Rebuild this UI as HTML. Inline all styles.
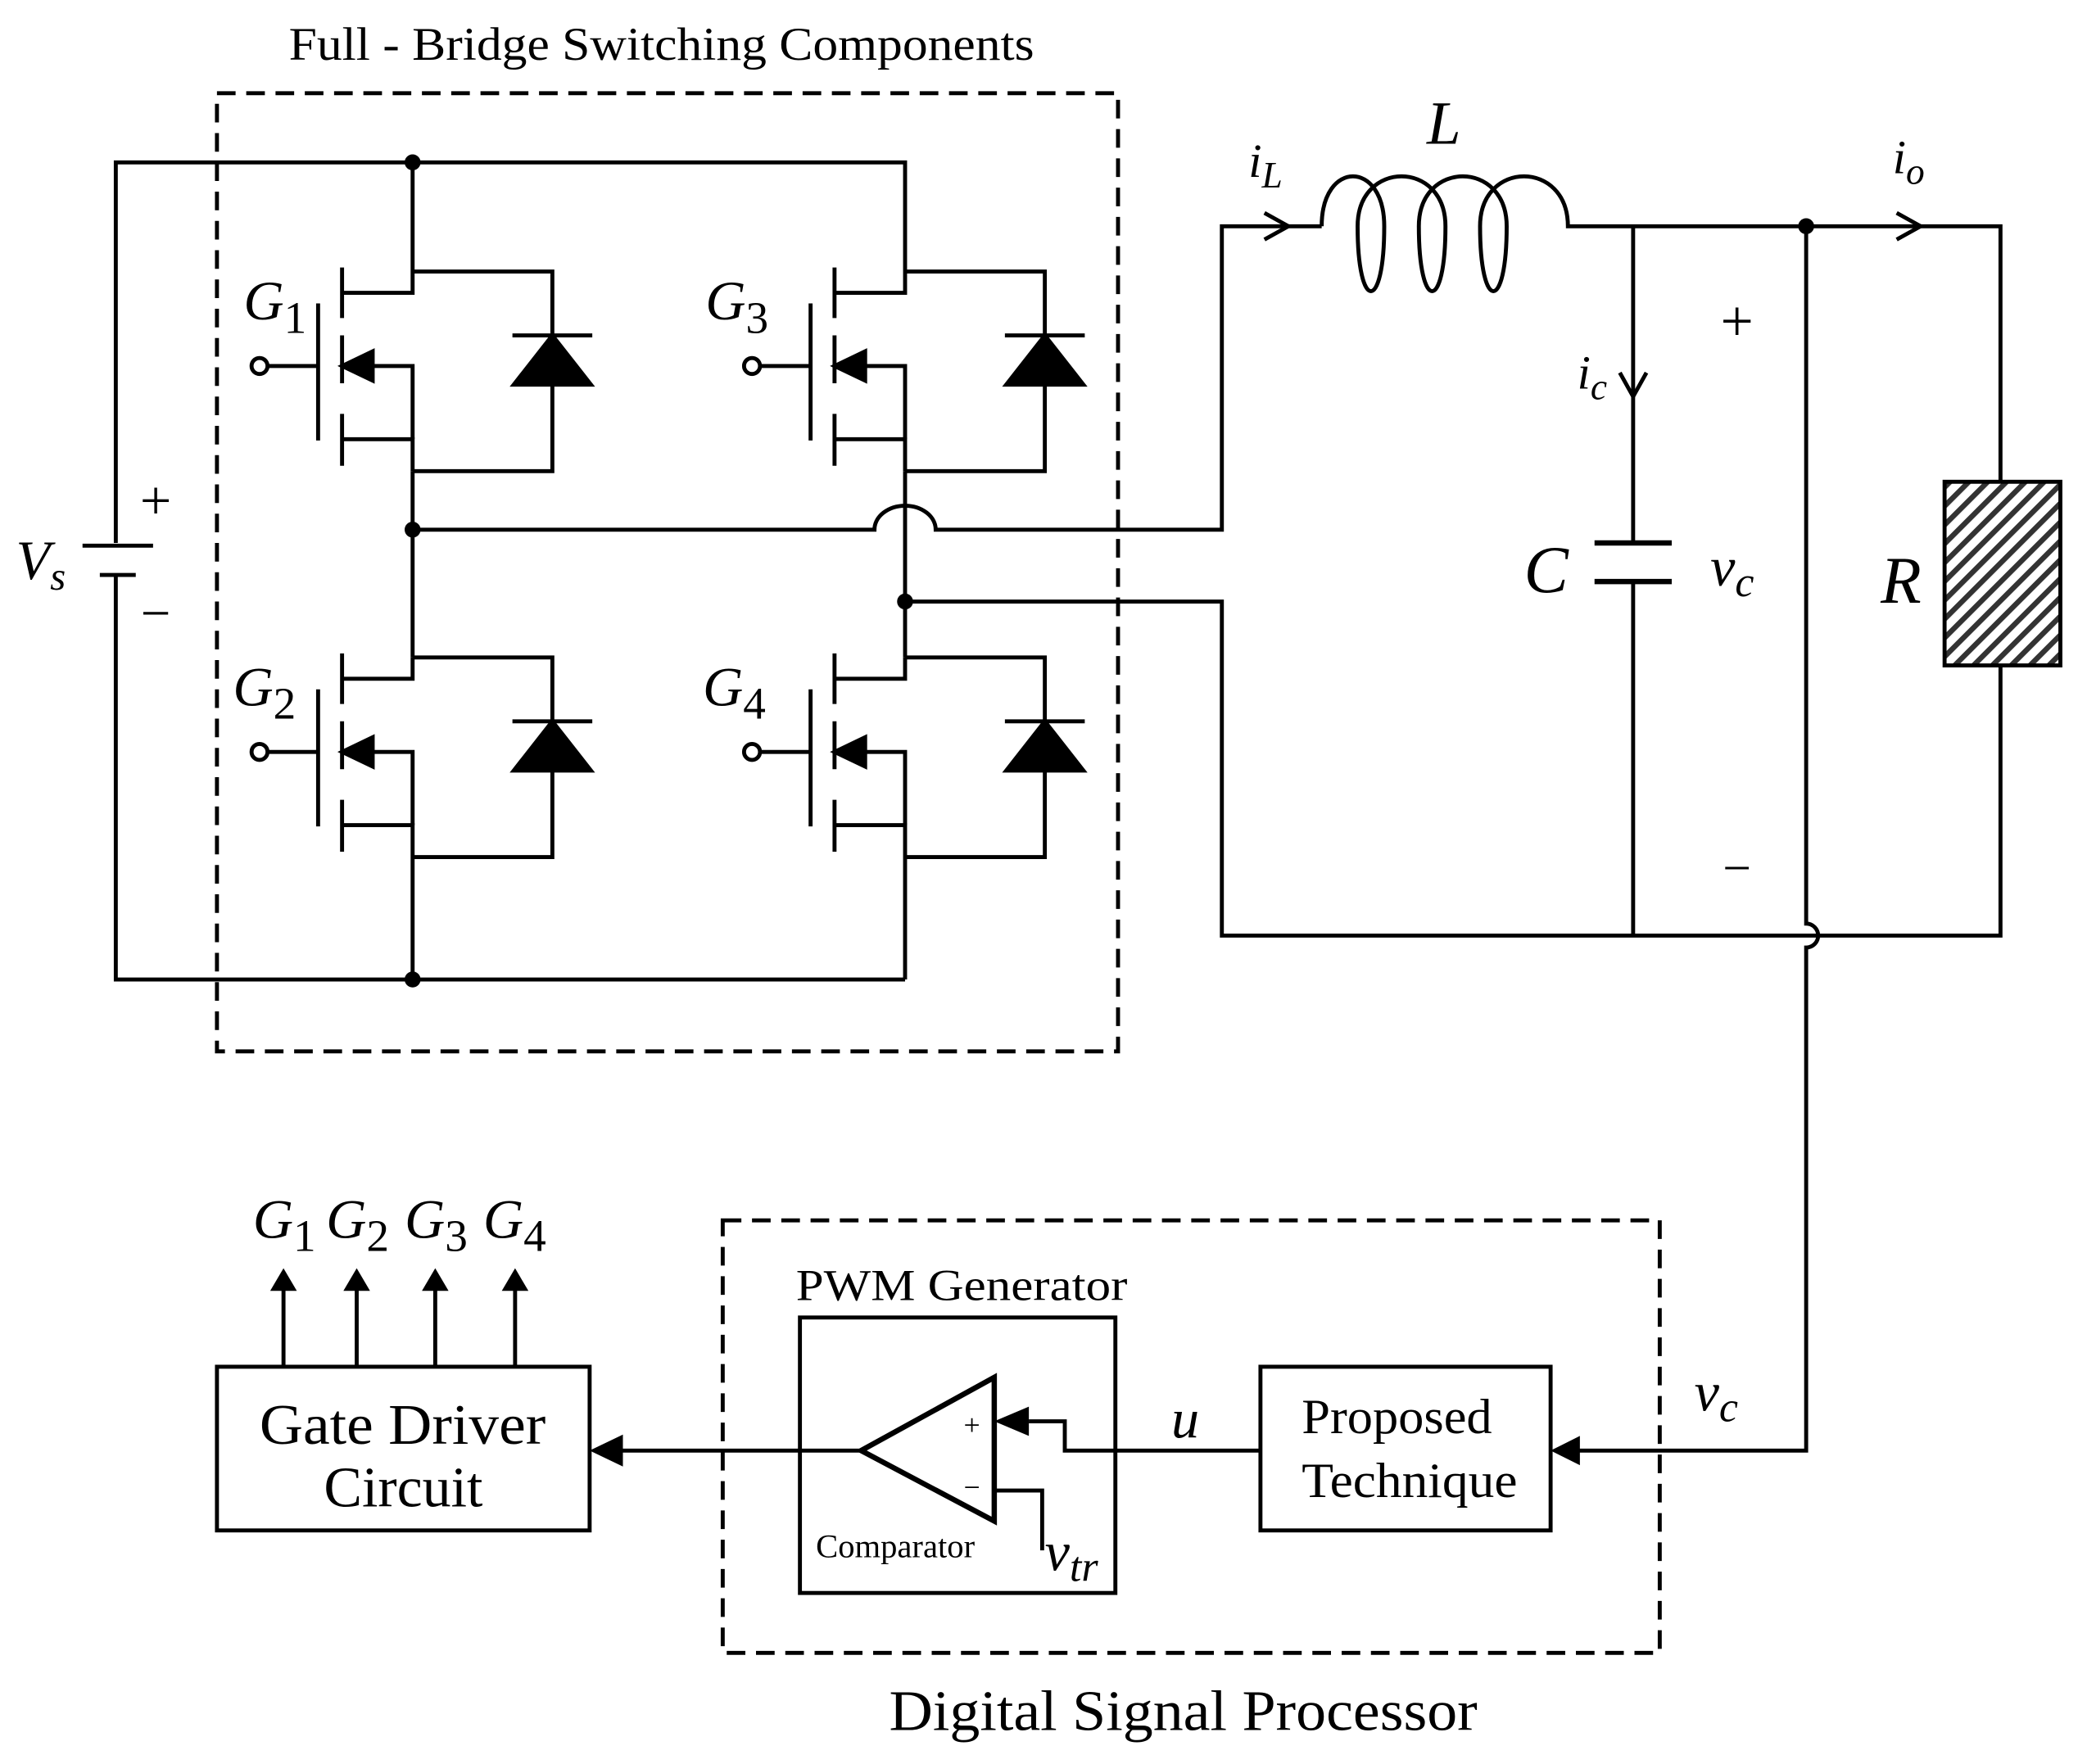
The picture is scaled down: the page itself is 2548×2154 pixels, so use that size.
<!DOCTYPE html>
<html><head><meta charset="utf-8"><style>html,body{margin:0;padding:0;background:#fff}svg{display:block}text{font-family:"Liberation Serif",serif;fill:#000}</style></head><body>
<svg width="2548" height="2154" viewBox="0 0 1568 1325.5" xmlns="http://www.w3.org/2000/svg">
<defs>
<pattern id="h" patternUnits="userSpaceOnUse" width="10" height="10" patternTransform="rotate(45)"><rect width="10" height="10" fill="#fff"/><rect width="4" height="10" fill="#333"/></pattern>
<g id="m" stroke="#000" stroke-width="3" fill="none">
<circle cx="-115" cy="0" r="6" fill="#fff"/>
<line x1="-109" y1="0" x2="-71" y2="0"/>
<line x1="-71" y1="-47" x2="-71" y2="56"/>
<line x1="-53" y1="-74" x2="-53" y2="-36"/>
<line x1="-53" y1="-23" x2="-53" y2="13"/>
<line x1="-53" y1="36" x2="-53" y2="75"/>
<polyline points="-53,-55 0,-55 0,-71"/>
<polyline points="-53,55 0,55 0,79"/>
<polyline points="-30,0 0,0 0,55"/>
<polygon points="-53,0 -30,-11 -30,11" fill="#000"/>
<polyline points="0,-71 105,-71 105,79 0,79"/>
<line x1="75" y1="-23" x2="135" y2="-23"/>
<polygon points="105,-23 76,14 134,14" fill="#000"/>
</g>
</defs>
<g stroke="#000" stroke-width="3" fill="none">
<rect x="163" y="70" width="677" height="720" stroke-dasharray="14,8"/>
<rect x="543" y="917" width="704" height="325" stroke-dasharray="14,8"/>
<polyline points="87,408 87,122 680,122 680,204"/>
<polyline points="87,432 87,736 680,736"/>
<line x1="62" y1="410" x2="115" y2="410"/>
<line x1="75" y1="432" x2="102" y2="432"/>
<line x1="310" y1="122" x2="310" y2="204"/>
<line x1="310" y1="354" x2="310" y2="494"/>
<line x1="310" y1="644" x2="310" y2="736"/>
<line x1="680" y1="354" x2="680" y2="494"/>
<line x1="680" y1="644" x2="680" y2="736"/>
<path d="M310,398 H657 A23,18 0 0 1 703,398 H918 V170 H993"/>
<path d="M993,170 C993,120 1040,120 1040,170 C1040,235 1020,235 1020,170 C1020,120 1086,120 1086,170 C1086,235 1066,235 1066,170 C1066,120 1132,120 1132,170 C1132,235 1112,235 1112,170 C1112,120 1178,120 1178,170 H1503 V362"/>
<polyline points="680,452 918,452 918,703 1503,703 1503,500"/>
<polyline points="1227,170 1227,408"/>
<polyline points="1227,437 1227,703"/>
<line x1="1198" y1="408" x2="1256" y2="408" stroke-width="4"/>
<line x1="1198" y1="437" x2="1256" y2="437" stroke-width="4"/>
<rect x="1461" y="362" width="87" height="138" fill="url(#h)"/>
<path d="M1357,170 V694 A9,9 0 0 1 1357,712 V1090 H1180"/>
<polyline points="950,160 968,170 950,180"/>
<polyline points="1425,160 1443,170 1425,180"/>
<polyline points="1217,280 1227,298 1237,280"/>
<rect x="947" y="1027" width="218" height="123"/>
<rect x="601" y="990" width="237" height="207"/>
<rect x="163" y="1027" width="280" height="123"/>
<polygon points="647,1090 747,1035 747,1143" stroke-width="4"/>
<line x1="465" y1="1090" x2="647" y2="1090"/>
<polyline points="773,1068 800,1068 800,1090 947,1090"/>
<polyline points="747,1120 783,1120 783,1165"/>
<line x1="213" y1="1027" x2="213" y2="968"/>
<line x1="268" y1="1027" x2="268" y2="968"/>
<line x1="327" y1="1027" x2="327" y2="968"/>
<line x1="387" y1="1027" x2="387" y2="968"/>
</g>
<g fill="#000">
<circle cx="310" cy="122" r="6"/><circle cx="310" cy="398" r="6"/><circle cx="310" cy="736" r="6"/><circle cx="680" cy="452" r="6"/><circle cx="1357" cy="170" r="6"/>
<polygon points="1165,1090 1187,1079 1187,1101"/>
<polygon points="443,1090 468,1078 468,1102"/>
<polygon points="747,1068 773,1057 773,1079"/>
<polygon points="213,953 203,970 223,970"/><polygon points="268,953 258,970 278,970"/><polygon points="327,953 317,970 337,970"/><polygon points="387,953 377,970 397,970"/>
</g>
<use href="#m" x="310" y="275"/><use href="#m" x="680" y="275"/><use href="#m" x="310" y="565"/><use href="#m" x="680" y="565"/>
<text x="217" y="45" font-size="35" textLength="560" lengthAdjust="spacingAndGlyphs">Full - Bridge  Switching Components</text>
<text x="668" y="1300" font-size="43" textLength="442" lengthAdjust="spacingAndGlyphs">Digital Signal Processor</text>
<text x="598" y="977" font-size="33" textLength="249" lengthAdjust="spacingAndGlyphs">PWM Generator</text>
<text x="195" y="1085" font-size="43" textLength="215" lengthAdjust="spacingAndGlyphs">Gate Driver</text>
<text x="303" y="1132" font-size="43" text-anchor="middle">Circuit</text>
<text x="978" y="1077" font-size="37" textLength="143" lengthAdjust="spacingAndGlyphs">Proposed</text>
<text x="978" y="1125" font-size="37" textLength="162" lengthAdjust="spacingAndGlyphs">Technique</text>
<text x="613" y="1170" font-size="25">Comparator</text>
<text x="724" y="1078" font-size="22">+</text><text x="724" y="1125" font-size="22">−</text>
<g font-style="italic" font-size="42">
<text x="183" y="240">G<tspan font-style="normal" font-size="34" dy="10">1</tspan></text>
<text x="530" y="240">G<tspan font-style="normal" font-size="34" dy="10">3</tspan></text>
<text x="175" y="530">G<tspan font-style="normal" font-size="34" dy="10">2</tspan></text>
<text x="528" y="530">G<tspan font-style="normal" font-size="34" dy="10">4</tspan></text>
<text x="190" y="930">G<tspan font-style="normal" font-size="34" dy="10">1</tspan></text>
<text x="245" y="930">G<tspan font-style="normal" font-size="34" dy="10">2</tspan></text>
<text x="304" y="930">G<tspan font-style="normal" font-size="34" dy="10">3</tspan></text>
<text x="363" y="930">G<tspan font-style="normal" font-size="34" dy="10">4</tspan></text>
<text x="12" y="435">V<tspan font-size="30" dy="8">s</tspan></text>
<text x="1072" y="108" font-size="46">L</text>
<text x="938" y="133" font-size="36">i<tspan font-size="28" dy="8">L</tspan></text>
<text x="1422" y="130" font-size="36">i<tspan font-size="28" dy="8">o</tspan></text>
<text x="1185" y="292" font-size="36">i<tspan font-size="28" dy="8">c</tspan></text>
<text x="1145" y="445" font-size="50">C</text>
<text x="1285" y="440">v<tspan font-size="32" dy="8">c</tspan></text>
<text x="1413" y="453" font-size="50">R</text>
<text x="1273" y="1060">v<tspan font-size="32" dy="8">c</tspan></text>
<text x="880" y="1080">u</text>
<text x="785" y="1180">v<tspan font-size="32" dy="8">tr</tspan></text>
</g>
<text x="117" y="390" font-size="42" text-anchor="middle">+</text>
<text x="117" y="474" font-size="40" text-anchor="middle">−</text>
<text x="1305" y="256" font-size="44" text-anchor="middle">+</text>
<text x="1305" y="665" font-size="38" text-anchor="middle">−</text>
</svg>
</body></html>
